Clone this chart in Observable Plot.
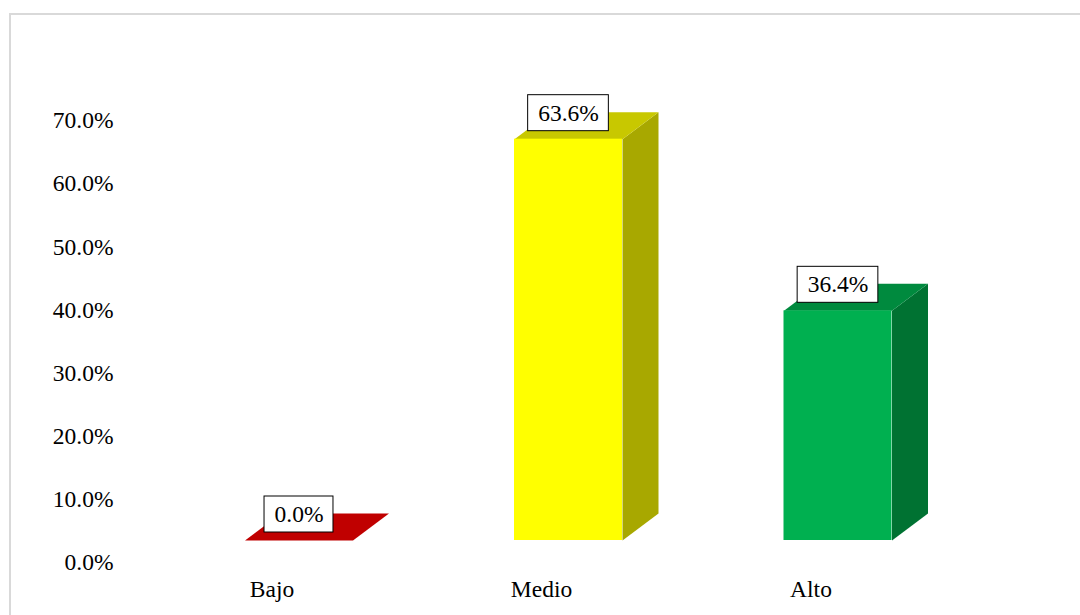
<!DOCTYPE html>
<html>
<head>
<meta charset="utf-8">
<script src="https://cdn.jsdelivr.net/npm/d3@7"></script>
<script src="https://cdn.jsdelivr.net/npm/@observablehq/plot@0.6"></script>
<style>
  html, body { margin: 0; padding: 0; background: #fff; width: 1080px; height: 615px; overflow: hidden; }
  #wrap { position: relative; width: 1080px; height: 615px; }
  #frame { position: absolute; left: 9px; top: 13px; width: 1090px; height: 640px; border: 2px solid #d9d9d9; box-sizing: border-box; }
  #chart { position: absolute; left: 0; top: 0; }
</style>
</head>
<body>
<div id="wrap"><div id="frame"></div><div id="chart"></div></div>
<script>
// ---- data ----
const categories = ["Bajo", "Medio", "Alto"];
const values = [0.0, 63.6, 36.4];
const valueLabels = ["0.0%", "63.6%", "36.4%"];
const frontColors = ["#C00000", "#FFFF00", "#00B050"];
const topColors = ["#C00000", "#C8C800", "#008A3E"];
const sideColors = ["#A00000", "#A8A800", "#007232"];
const yTicks = [0, 10, 20, 30, 40, 50, 60, 70];

// ---- geometry helpers (pixel -> data units) ----
const FONT = "'Liberation Serif', 'Times New Roman', serif";
const FS = 23.5;
const yRange = [540, 98.3];
const xRange = [298.5, 837.5];
const pxPerX = (xRange[1] - xRange[0]) / 2;
const pxPerY = (yRange[0] - yRange[1]) / 70;
const half = 54 / pxPerX;          // half bar width
const depthX = 36 / pxPerX;        // 3D depth offset in x
const depthY = 27 / pxPerY;        // 3D depth offset in y

const bars = categories.map((c, i) => ({cat: c, i, v: values[i]}));

const polys = [];
bars.forEach(b => {
  const xl = b.i - half, xr = b.i + half;
  // side face
  [[xr, 0], [xr + depthX, depthY], [xr + depthX, b.v + depthY], [xr, b.v]]
    .forEach(([x, y]) => polys.push({id: "s" + b.i, x, y, color: sideColors[b.i], order: 0}));
  // top face
  [[xl, b.v], [xr, b.v], [xr + depthX, b.v + depthY], [xl + depthX, b.v + depthY]]
    .forEach(([x, y]) => polys.push({id: "t" + b.i, x, y, color: topColors[b.i], order: 1}));
});

const canvas = document.createElement("canvas");
const ctx = canvas.getContext("2d");
ctx.font = `${FS}px ${FONT}`;

const labelMarks = bars.flatMap(b => {
  const w = ctx.measureText(valueLabels[b.i]).width + 20;
  const h = 36;
  return [
    Plot.rect([b], {
      x1: d => d.i, x2: d => d.i, y1: "v", y2: "v",
      insetLeft: -w / 2, insetRight: -w / 2, insetTop: -h / 2, insetBottom: -h / 2,
      dy: -26, fill: "white", stroke: "#000", strokeWidth: 1
    }),
    Plot.text([b], {
      x: d => d.i, y: "v", text: d => valueLabels[d.i], dy: -26,
      fontSize: FS, fill: "#000"
    })
  ];
});

const chart = Plot.plot({
  width: 1080,
  height: 615,
  marginLeft: 116,
  marginRight: 0,
  marginTop: 0,
  marginBottom: 0,
  style: { fontFamily: FONT, fontSize: FS + "px", background: "transparent", overflow: "visible" },
  x: { type: "linear", domain: [0, 2], range: xRange, axis: null },
  y: { domain: [0, 70], range: yRange, axis: null },
  color: { type: "identity" },
  marks: [
    Plot.axisY({ ticks: yTicks, tickFormat: d => d.toFixed(1) + "%", tickSize: 0, tickPadding: 3,
                 dy: 22, fontSize: FS, anchor: "left", label: null, fill: "#000" }),
    Plot.line(polys.filter(p => p.order === 0), { x: "x", y: "y", z: "id", fill: "color", stroke: null, curve: "linear" }),
    Plot.line(polys.filter(p => p.order === 1), { x: "x", y: "y", z: "id", fill: "color", stroke: null, curve: "linear" }),
    Plot.rect(bars, { x1: d => d.i - half, x2: d => d.i + half, y1: 0, y2: "v", fill: d => frontColors[d.i] }),
    Plot.text(bars, { x: "i", y: 0, text: "cat", dx: -27, dy: 49, fontSize: FS, fill: "#000" }),
    ...labelMarks
  ]
});
document.getElementById("chart").appendChild(chart);
</script>
</body>
</html>
